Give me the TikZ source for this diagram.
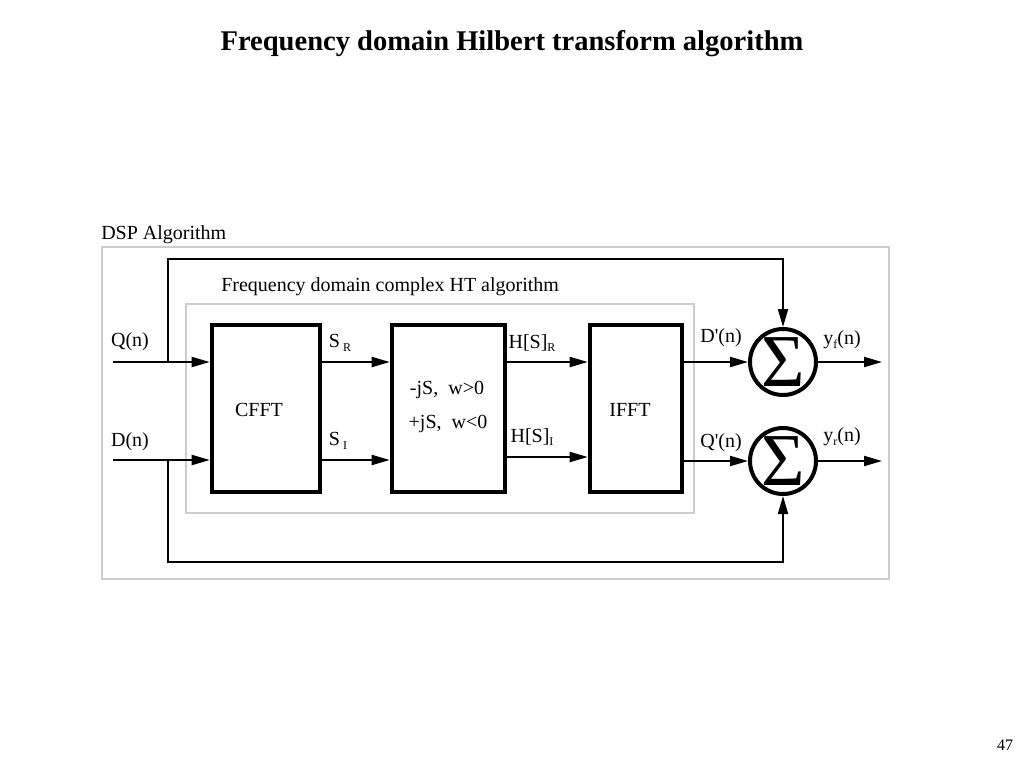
\documentclass[tikz,border=0pt]{standalone}
\usepackage{fontspec}
\setmainfont{Liberation Serif}[Ligatures=TeXOff]
\usepackage{xcolor}
\usetikzlibrary{arrows.meta}
\newcommand{\InputOne}
{Q(n)}
\newcommand{\InputTwo}
{D(n)}
\newcommand{\BlockOne}
{CFFT}
\newcommand{\BlockThree}
{IFFT}
\newcommand{\SubText}[1]
{\raisebox{-0.4ex}{\fontsize{9}{9}\selectfont #1}}

\begin{document}
\begin{tikzpicture}[x=0.75pt, y=-0.75pt,
    blockbox/.style={draw, line width=3.4pt, inner sep=0pt},
    sumnode/.style={draw, circle, line width=3pt, minimum size=49.5pt, inner sep=0pt, font=\fontsize{56}{56}\selectfont},
    wire/.style={line width=1.5pt},
    sig/.style={wire, -{Triangle[length=13.5pt, width=7.5pt]}},
    lbl/.style={font=\fontsize{15}{18}\selectfont, inner sep=0pt},
    framebox/.style={draw=boxgray, line width=0.8pt}]
    % Define colors
    \definecolor{boxgray}{RGB}{205,205,205}

    \useasboundingbox (0,0) rectangle (1024,768);
    \fill[white] (0,0) rectangle (1024,768);

    % Title and page number
    \node[font=\fontsize{21.4}{25}\selectfont\bfseries] (title) at (512,44) {Frequency domain Hilbert transform algorithm};
    \node[font=\fontsize{12}{14}\selectfont] (page) at (1005,745) {47};

    % Frames
    \draw[framebox] (102,247) rectangle (889,579);
    \draw[framebox] (186,304) rectangle (694,513);
    \node[lbl, anchor=west] (dsp) at (101,235) {DSP Algorithm};
    \node[lbl, anchor=west] (htalg) at (221,287) {Frequency domain complex HT algorithm};

    % Blocks
    \node[blockbox, minimum width=81pt, minimum height=125pt] (cfft) at (266,408.5) {};
    \node[blockbox, minimum width=84.75pt, minimum height=125pt] (hilb) at (448.5,408.5) {};
    \node[blockbox, minimum width=69pt, minimum height=125pt] (ifft) at (636,408.5) {};
    \node[sumnode] (sumf) at (783,362) {Σ};
    \node[sumnode] (sumr) at (783,461) {Σ};

    % Block texts
    \node[lbl] (cfftname) at (259,410) {\BlockOne};
    \node[lbl] (ifftname) at (630,410) {\BlockThree};
    \node[lbl] (ruleneg) at (447,390) {-jS,\ \ w>0};
    \node[lbl] (rulepos) at (448,424) {+jS,\ \ w<0};

    % Inputs and outputs
    \coordinate (qin) at (113,362);
    \coordinate (din) at (113,460);
    \coordinate (qtap) at (168,362);
    \coordinate (dtap) at (168,460);
    \coordinate (topbend) at (168,259);
    \coordinate (botbend) at (168,562);
    \coordinate (yfout) at (882,362);
    \coordinate (yrout) at (882,461);
    \coordinate (hsi) at (0,457);

    % Signal lines
    \draw[sig] (qin) -- (cfft.west |- qin);
    \draw[sig] (din) -- (cfft.west |- din);
    \draw[sig] (cfft.east |- qin) -- (hilb.west |- qin);
    \draw[sig] (cfft.east |- din) -- (hilb.west |- din);
    \draw[sig] (hilb.east |- qin) -- (ifft.west |- qin);
    \draw[sig] (hilb.east |- hsi) -- (ifft.west |- hsi);
    \draw[sig] (ifft.east |- sumf) -- (sumf.west);
    \draw[sig] (ifft.east |- sumr) -- (sumr.west);
    \draw[sig] (sumf.east) -- (yfout);
    \draw[sig] (sumr.east) -- (yrout);
    \draw[sig] (qtap) -- (topbend) -| (sumf.north);
    \draw[sig] (dtap) -- (botbend) -| (sumr.south);

    % Signal labels
    \node[lbl] (qlbl) at (130,342) {\InputOne};
    \node[lbl] (dlbl) at (130,442) {\InputTwo};
    \node[lbl] (srlbl) at (340,343) {S\,\SubText{R}};
    \node[lbl] (silbl) at (338,441) {S\,\SubText{I}};
    \node[lbl] (hrlbl) at (532,343) {H[S]\SubText{R}};
    \node[lbl] (hilbl) at (532,437) {H[S]\SubText{I}};
    \node[lbl] (dplbl) at (721,338) {D'(n)};
    \node[lbl] (qplbl) at (721,443) {Q'(n)};
    \node[lbl] (yflbl) at (842,340) {y\SubText{f}(n)};
    \node[lbl] (yrlbl) at (842,437) {y\SubText{r}(n)};

\end{tikzpicture}
\end{document}
